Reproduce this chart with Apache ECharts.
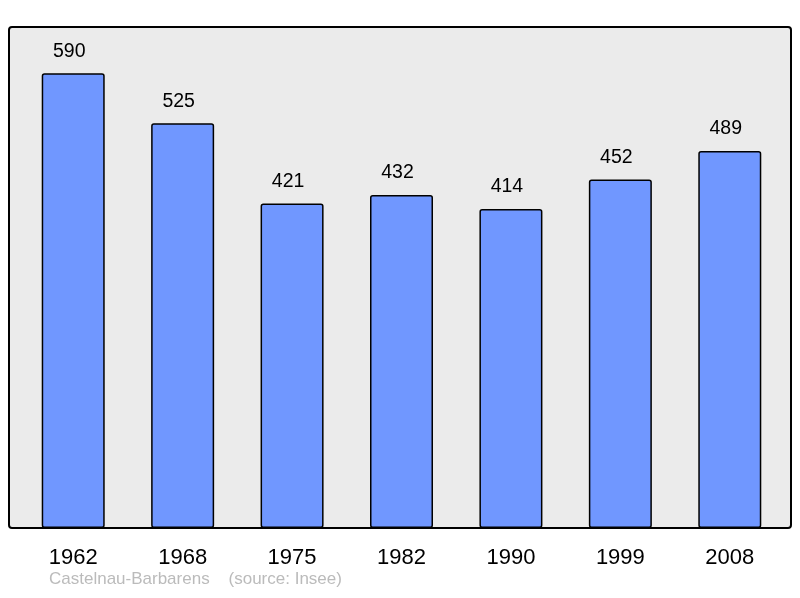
<!DOCTYPE html>
<html>
<head>
<meta charset="utf-8">
<script src="https://cdn.jsdelivr.net/npm/echarts@6/dist/echarts.min.js"></script>
<style>html,body{margin:0;padding:0;background:#fff;}#c{width:800px;height:598px;}</style>
</head>
<body>
<div id="c"></div>
<script>
const years = ['1962', '1968', '1975', '1982', '1990', '1999', '2008'];
const population = [590, 525, 421, 432, 414, 452, 489];
const caption = 'Castelnau-Barbarens    (source: Insee)';

const chart = echarts.init(document.getElementById('c'), null, {renderer: 'canvas'});
chart.setOption({
  animation: false,
  backgroundColor: '#ffffff',
  textStyle: {fontFamily: 'Liberation Sans, Arial, sans-serif'},
  graphic: [
    {type: 'rect', z: -10, shape: {x: 9, y: 27, width: 782, height: 501, r: 3},
     style: {fill: '#ebebeb', stroke: '#000', lineWidth: 2}},
    {type: 'text', left: 49, top: 571,
     style: {text: caption, fill: '#bbbbbb', font: '17px "Liberation Sans", Arial, sans-serif'}}
  ],
  grid: {left: 18.5, right: 15.5, top: 27, bottom: 70, containLabel: false},
  xAxis: {
    type: 'category', data: years,
    axisLine: {show: false}, axisTick: {show: false},
    axisLabel: {color: '#000', fontSize: 22, margin: 19, fontFamily: 'Liberation Sans'}
  },
  yAxis: {
    type: 'value', min: 0, max: 650,
    show: false, splitLine: {show: false}
  },
  series: [{
    type: 'bar', data: population, barWidth: 63,
    itemStyle: {color: '#7097ff', borderColor: '#000', borderWidth: 1.5, borderRadius: 2},
    label: {show: true, position: 'top', distance: 12, offset: [-4, 0], color: '#000', fontSize: 19.5, fontFamily: 'Liberation Sans'}
  }]
});
</script>
</body>
</html>
